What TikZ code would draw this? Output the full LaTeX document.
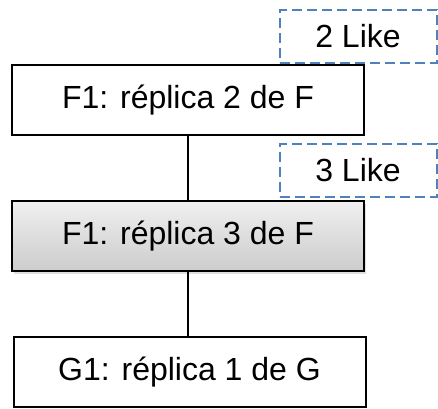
\documentclass[tikz,border=0pt]{standalone}
\usepackage{fontspec}
\setmainfont{Liberation Sans}
\usetikzlibrary{shadows}
\definecolor{likeblue}{RGB}{79,129,189}
\tikzset{
  replica/.style={rectangle,draw,line width=2pt,minimum width=352pt,minimum height=70pt,inner sep=0pt,
    font=\fontsize{32}{36}\selectfont},
  likebox/.style={rectangle,draw=likeblue,line width=2pt,dash pattern=on 10pt off 5pt,
    minimum width=157pt,minimum height=53pt,inner sep=0pt,font=\fontsize{32}{36}\selectfont},
  grayfill/.style={top color=gray!12,bottom color=gray!40,
    drop shadow={shadow xshift=2pt,shadow yshift=-3pt,opacity=0.25}}
}
\begin{document}
\begin{tikzpicture}[x=1pt,y=-1pt,node distance=136pt]
            \useasboundingbox (0,0) rectangle (438,408);
            \path (188,100) node[replica,fill=white] (F2) {F1: réplica 2 de F};
            \path node[replica,grayfill,below of=F2] (F3) {F1: réplica 3 de F};
            \path node[replica,fill=white,below of=F3,xshift=1.5pt] (G1) {G1: réplica 1 de G};

            \path (358,36.5) node[likebox] (L2) {2 Like};
            \path (358,170) node[likebox] (L3) {3 Like};

            \begin{scope}[line width=1.5pt]
              \draw (F2.south) -- (F2.south |- F3.north);
              \draw (F3.south) -- (F3.south |- G1.north);
            \end{scope}
          \end{tikzpicture}
\end{document}
